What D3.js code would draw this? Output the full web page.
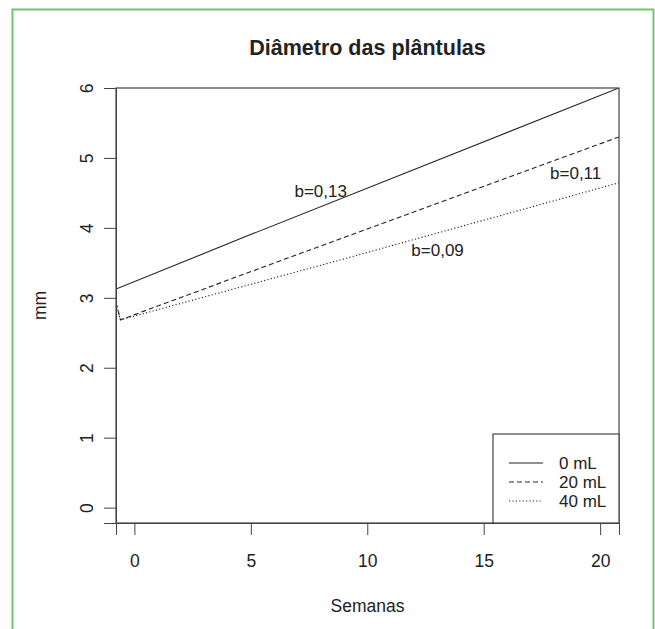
<!DOCTYPE html>
<html>
<head>
<meta charset="utf-8">
<script src="https://cdn.jsdelivr.net/npm/d3@7"></script>
<style>
  html, body { margin: 0; padding: 0; background: #fff; }
  svg { display: block; }
  text { font-family: "Liberation Sans", Arial, Helvetica, sans-serif; fill: #222; }
</style>
</head>
<body>
<svg id="chart" width="655" height="629"></svg>
<script>
// Seedling stem diameter (mm) over the weeks, one fitted line per dose
const semanas0  = [-0.79, 4.96, 20.81];
const diametro0 = [3.125, 3.90, 6.0];

const semanas20  = [-0.79, -0.6, 6.46, 20.81];
const diametro20 = [2.93, 2.685, 3.554, 5.30];

const semanas40  = [-0.79, -0.6, 8.82, 20.81];
const diametro40 = [2.93, 2.685, 3.54, 4.645];

const legendLabels = ["0 mL", "20 mL", "40 mL"];
const xTicks = [0, 5, 10, 15, 20];
const yTicks = [0, 1, 2, 3, 4, 5, 6];

// slope annotations: [week, mm, text]
const slopeLabels = [
  [8.0, 4.53, "b=0,13"],
  [18.95, 4.78, "b=0,11"],
  [13.02, 3.68, "b=0,09"]
];

const W = 655, H = 629;
const plot = { left: 116, right: 619, top: 88, bottom: 523 };

const svg = d3.select("#chart");

// outer frame
svg.append("path")
  .attr("d", `M12.5,${H} V9.5 H653.5 V${H}`)
  .attr("fill", "none")
  .attr("stroke", "#72c276")
  .attr("stroke-width", 2);

const x = d3.scaleLinear().domain([-0.79, 20.81]).range([plot.left, plot.right]);
const y = d3.scaleLinear().domain([-0.22, 6]).range([plot.bottom, plot.top]);

svg.append("defs").append("clipPath").attr("id", "clip")
  .append("rect")
  .attr("x", plot.left).attr("y", plot.top)
  .attr("width", plot.right - plot.left).attr("height", plot.bottom - plot.top);

const line = d3.line().x(d => x(d[0])).y(d => y(d[1]));

const series = [
  { xs: semanas0,  ys: diametro0,  dash: null },
  { xs: semanas20, ys: diametro20, dash: "5,3" },
  { xs: semanas40, ys: diametro40, dash: "1.2,2.2" }
];

const g = svg.append("g").attr("clip-path", "url(#clip)");
series.forEach(s => {
  g.append("path")
    .datum(s.xs.map((v, i) => [v, s.ys[i]]))
    .attr("d", line)
    .attr("fill", "none")
    .attr("stroke", "#222")
    .attr("stroke-width", 1.1)
    .attr("stroke-dasharray", s.dash);
});

// axes
const xAxis = svg.append("g")
  .attr("transform", `translate(0,${plot.bottom})`)
  .call(d3.axisBottom(x).tickValues(xTicks).tickSize(12).tickPadding(20).tickFormat(d3.format("d")));
xAxis.selectAll("text").style("font-size", "17.5px").attr("fill", "#222");

const yAxis = svg.append("g")
  .attr("transform", `translate(${plot.left},0)`)
  .call(d3.axisLeft(y).tickValues(yTicks).tickSize(12).tickFormat(d3.format("d")));
yAxis.selectAll("text")
  .style("font-size", "17.5px")
  .attr("fill", "#222")
  .attr("text-anchor", "middle")
  .attr("transform", "rotate(-90)")
  .attr("x", 0)
  .attr("y", -29)
  .attr("dy", "0.35em");

[xAxis, yAxis].forEach(a => {
  a.selectAll("line").attr("stroke", "#444");
  a.select(".domain").attr("stroke", "#444");
});

// plot box
svg.append("rect")
  .attr("x", plot.left).attr("y", plot.top)
  .attr("width", plot.right - plot.left).attr("height", plot.bottom - plot.top)
  .attr("fill", "none").attr("stroke", "#444").attr("stroke-width", 1.2);

// slope labels
svg.selectAll("text.slope").data(slopeLabels).enter().append("text")
  .attr("class", "slope")
  .attr("x", d => x(d[0])).attr("y", d => y(d[1]))
  .attr("dy", "0.35em")
  .attr("text-anchor", "middle")
  .style("font-size", "17px")
  .text(d => d[2]);

// legend
const leg = { left: 493, top: 434 };
svg.append("rect")
  .attr("x", leg.left).attr("y", leg.top)
  .attr("width", plot.right - leg.left).attr("height", plot.bottom - leg.top)
  .attr("fill", "#fff").attr("stroke", "#444").attr("stroke-width", 1.2);
const legRows = svg.selectAll("g.leg").data(legendLabels).enter().append("g")
  .attr("class", "leg")
  .attr("transform", (d, i) => `translate(0,${463 + i * 19})`);
legRows.append("line")
  .attr("x1", 509).attr("x2", 543)
  .attr("stroke", "#222").attr("stroke-width", 1.1)
  .attr("stroke-dasharray", (d, i) => series[i].dash);
legRows.append("text")
  .attr("x", 559).attr("dy", "0.35em")
  .style("font-size", "17px")
  .text(d => d);

// titles
svg.append("text")
  .attr("x", (plot.left + plot.right) / 2).attr("y", 55)
  .attr("text-anchor", "middle")
  .style("font-size", "21.5px").style("font-weight", "bold")
  .text("Diâmetro das plântulas");

svg.append("text")
  .attr("x", (plot.left + plot.right) / 2).attr("y", 606)
  .attr("dy", "0.35em")
  .attr("text-anchor", "middle")
  .style("font-size", "17.5px")
  .text("Semanas");

svg.append("text")
  .attr("transform", `translate(40,${(plot.top + plot.bottom) / 2}) rotate(-90)`)
  .attr("dy", "0.35em")
  .attr("text-anchor", "middle")
  .style("font-size", "17.5px")
  .text("mm");
</script>
</body>
</html>
